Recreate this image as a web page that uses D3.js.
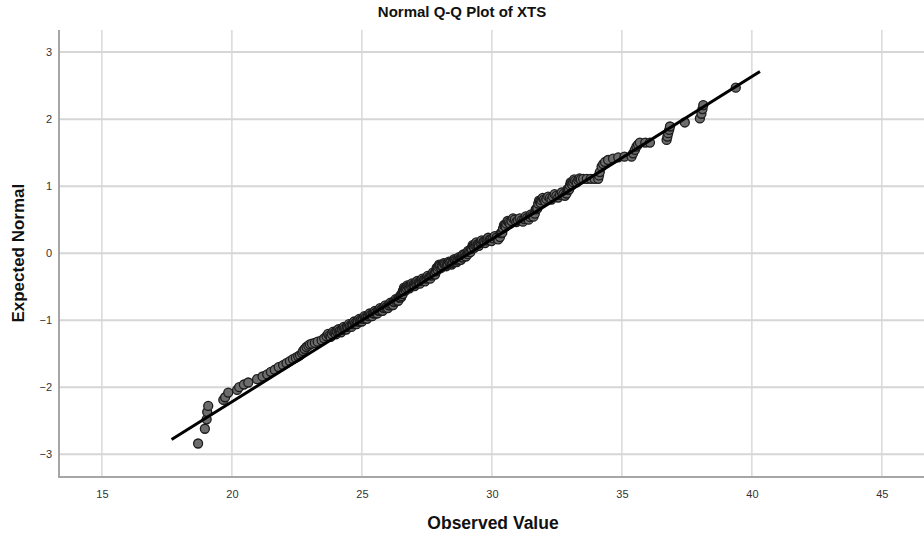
<!DOCTYPE html>
<html>
<head>
<meta charset="utf-8">
<script src="https://cdn.jsdelivr.net/npm/d3@7"></script>
<style>
  html, body { margin: 0; padding: 0; background: #ffffff; }
  svg { display: block; font-family: "Liberation Sans", Arial, sans-serif; }
</style>
</head>
<body>
<svg id="chart" width="924" height="539"></svg>
<script>
// Normal Q-Q plot of XTS: observed values against expected normal scores.
const chartTitle = "Normal Q-Q Plot of XTS";
const xTitle = "Observed Value";
const yTitle = "Expected Normal";

const xTicks = [15, 20, 25, 30, 35, 40, 45];
const yTicks = [-3, -2, -1, 0, 1, 2, 3];

// Cases, part one: tails and the main run of the curve
const observed = [
  18.70, 18.96, 19.03, 19.05, 19.09, 19.67, 19.74, 19.86, 20.20, 20.28,
  20.46, 20.63, 20.97, 21.18, 21.36, 21.50, 21.65, 21.80, 21.97, 22.10,
  22.23, 22.35, 22.46, 22.55, 22.62, 22.70, 22.74, 22.80, 22.87, 22.94,
  23.00, 23.08, 23.19, 23.30, 23.45, 23.55, 23.64, 23.75, 23.85, 23.95,
  24.05, 24.15, 24.25, 24.35, 24.45, 24.55, 24.65, 24.75, 24.85, 24.95,
  25.05, 25.15, 25.25, 25.35, 25.45, 25.55, 25.65, 25.75, 25.85, 25.95,
  26.05, 26.15, 26.25, 26.35, 26.45, 26.52, 26.55, 26.59, 26.65, 26.72,
  26.78, 26.88, 26.98, 27.08, 27.18, 27.28, 27.38, 27.48, 27.58, 27.68,
  27.78, 27.85, 27.90, 27.94, 28.00, 28.10, 28.20, 28.30, 28.40, 28.51,
  28.60, 28.70, 28.77, 28.85, 28.95, 29.05, 29.12, 29.22, 29.30, 29.35,
  29.45, 29.55, 29.67, 29.80, 29.92, 30.05, 30.18, 30.31, 30.37, 30.43,
  30.50, 30.56, 30.65, 30.75, 30.88, 31.00, 31.14, 31.25, 31.36, 31.46,
  31.55, 31.65, 31.72, 31.78, 31.85, 31.91, 32.00, 32.10, 32.23, 32.35,
  32.48, 32.62, 32.75, 32.87, 32.94, 33.00, 33.06, 33.13, 33.20, 33.32,
  33.42, 33.51, 33.65, 33.80, 33.95, 34.09, 34.12, 34.15, 34.22, 34.28,
  34.35, 34.47, 34.66, 34.86, 35.10, 35.37, 35.43, 35.50, 35.56, 35.62,
  35.69, 35.90, 36.08, 36.72, 36.75, 36.78, 36.82, 36.85, 37.42, 38.00,
  38.06, 38.10, 38.13, 39.38
];

const expectedNormal = [
  -2.84, -2.62, -2.48, -2.37, -2.28, -2.19, -2.15, -2.08, -2.04, -2.00,
  -1.96, -1.93, -1.88, -1.84, -1.81, -1.77, -1.74, -1.70, -1.67, -1.64,
  -1.61, -1.58, -1.56, -1.54, -1.52, -1.49, -1.46, -1.43, -1.40, -1.38,
  -1.36, -1.35, -1.34, -1.32, -1.30, -1.27, -1.24, -1.23, -1.21, -1.19,
  -1.17, -1.16, -1.14, -1.12, -1.10, -1.08, -1.06, -1.04, -1.02, -1.00,
  -0.98, -0.96, -0.94, -0.92, -0.90, -0.88, -0.86, -0.84, -0.82, -0.80,
  -0.78, -0.76, -0.73, -0.70, -0.66, -0.64, -0.60, -0.56, -0.53, -0.52,
  -0.50, -0.49, -0.47, -0.455, -0.435, -0.415, -0.40, -0.38, -0.36, -0.335,
  -0.31, -0.27, -0.23, -0.205, -0.195, -0.185, -0.17, -0.16, -0.15, -0.13,
  -0.115, -0.095, -0.08, -0.06, -0.035, -0.005, 0.02, 0.07, 0.105, 0.12,
  0.135, 0.15, 0.17, 0.19, 0.205, 0.22, 0.23, 0.24, 0.30, 0.37,
  0.41, 0.44, 0.46, 0.48, 0.50, 0.49, 0.49, 0.51, 0.525, 0.54,
  0.56, 0.59, 0.66, 0.74, 0.77, 0.79, 0.80, 0.81, 0.82, 0.84,
  0.855, 0.87, 0.88, 0.89, 0.95, 1.01, 1.04, 1.06, 1.08, 1.09,
  1.10, 1.11, 1.11, 1.11, 1.11, 1.11, 1.16, 1.21, 1.29, 1.33,
  1.36, 1.39, 1.41, 1.43, 1.44, 1.44, 1.49, 1.54, 1.59, 1.62,
  1.65, 1.65, 1.65, 1.69, 1.74, 1.79, 1.84, 1.89, 1.95, 2.01,
  2.08, 2.15, 2.21, 2.47
];

// Cases, part two: the densely packed middle of the band
const observedMid = [
  23.70, 23.80, 23.90, 24.00, 24.10, 24.20, 24.30, 24.40, 24.50, 24.60,
  24.70, 24.80, 24.90, 25.00, 25.10, 25.20, 25.30, 25.40, 25.50, 25.60,
  25.70, 25.80, 25.90, 26.00, 26.10, 26.20, 26.30, 26.40, 26.485, 26.57,
  26.62, 26.685, 26.75, 26.83, 26.93, 27.03, 27.13, 27.23, 27.33, 27.43,
  27.53, 27.63, 27.73, 27.815, 27.875, 27.92, 27.97, 28.05, 28.15, 28.25,
  28.35, 28.45, 28.55, 28.65, 28.735, 28.81, 28.90, 29.00, 29.085, 29.17,
  29.26, 29.325, 29.40, 29.50, 29.61, 29.735, 29.86, 29.985, 30.115, 30.245,
  30.34, 30.40, 30.465, 30.53, 30.605, 30.70, 30.815, 30.94, 31.07, 31.195,
  31.305, 31.41, 31.505, 31.60, 31.685, 31.75, 31.815, 31.88, 31.955, 32.05,
  32.165, 32.29, 32.415, 32.55, 32.685, 32.81, 32.905, 32.97, 33.03, 33.095,
  33.165, 33.26, 33.37
];

const expectedNormalMid = [
  -1.205, -1.25, -1.17, -1.21, -1.135, -1.18, -1.10, -1.14, -1.06, -1.10,
  -1.02, -1.06, -0.98, -1.02, -0.94, -0.98, -0.90, -0.94, -0.86, -0.90,
  -0.82, -0.86, -0.78, -0.82, -0.74, -0.775, -0.685, -0.71, -0.63, -0.61,
  -0.515, -0.555, -0.48, -0.525, -0.45, -0.49, -0.415, -0.455, -0.38, -0.42,
  -0.34, -0.38, -0.29, -0.32, -0.22, -0.25, -0.17, -0.22, -0.15, -0.195,
  -0.125, -0.17, -0.09, -0.135, -0.06, -0.10, -0.02, -0.05, 0.035, 0.015,
  0.12, 0.08, 0.16, 0.11, 0.19, 0.15, 0.23, 0.18, 0.255, 0.205,
  0.30, 0.305, 0.42, 0.395, 0.48, 0.44, 0.52, 0.465, 0.52, 0.47,
  0.55, 0.50, 0.58, 0.545, 0.655, 0.67, 0.785, 0.75, 0.825, 0.775,
  0.845, 0.80, 0.88, 0.83, 0.905, 0.855, 0.95, 0.95, 1.055, 1.02,
  1.10, 1.055, 1.115
];

// Cases, part three: the centre of the distribution, where cases crowd most
const observedCore = [
  24.025, 24.125, 24.225, 24.325, 24.425, 24.525, 24.625, 24.725, 24.825, 24.925,
  25.025, 25.125, 25.225, 25.325, 25.425, 25.525, 25.625, 25.725, 25.825, 25.925,
  26.025, 26.125, 26.225, 26.325, 26.425, 26.505, 26.575, 26.61, 26.70, 26.80,
  26.905, 27.005, 27.105, 27.205, 27.305, 27.405, 27.505, 27.605, 27.705, 27.80,
  27.89, 27.99, 28.075, 28.175, 28.275, 28.375, 28.475, 28.575, 28.675, 28.80,
  28.875, 28.975, 29.075, 29.195, 29.275, 29.375, 29.475, 29.575, 29.70, 29.825,
  29.95
];

const expectedNormalCore = [
  -1.165, -1.175, -1.135, -1.14, -1.095, -1.095, -1.055, -1.06, -1.015, -1.02,
  -0.975, -0.98, -0.935, -0.94, -0.895, -0.90, -0.855, -0.86, -0.815, -0.82,
  -0.775, -0.78, -0.725, -0.72, -0.665, -0.66, -0.565, -0.56, -0.51, -0.51,
  -0.47, -0.47, -0.44, -0.44, -0.40, -0.40, -0.365, -0.365, -0.32, -0.305,
  -0.235, -0.185, -0.195, -0.165, -0.17, -0.14, -0.15, -0.105, -0.11, -0.065,
  -0.065, -0.01, -0.015, 0.06, 0.10, 0.14, 0.13, 0.17, 0.17, 0.21,
  0.20
];

// Reference line: expected = (observed - mean) / sd, drawn over the observed span
const refMean = 29.14;
const refSD = 4.122;
const refSpan = [17.68, 40.31];

const svg = d3.select("#chart");
const W = 924, H = 539;
const plot = { left: 59, right: 924, top: 30, bottom: 477 };

const x = d3.scaleLinear().domain([13.35, 46.62]).range([plot.left, plot.right]);
const y = d3.scaleLinear().domain([-3.34, 3.33]).range([plot.bottom, plot.top]);

// Grid lines
const grid = svg.append("g");
grid.selectAll("line.vg").data(xTicks).join("line")
  .attr("class", "vg")
  .attr("x1", d => x(d)).attr("x2", d => x(d))
  .attr("y1", plot.top).attr("y2", plot.bottom)
  .attr("stroke", "#cfcfcf").attr("stroke-width", 1.2);
grid.selectAll("line.hg").data(yTicks).join("line")
  .attr("class", "hg")
  .attr("x1", plot.left).attr("x2", plot.right)
  .attr("y1", d => y(d)).attr("y2", d => y(d))
  .attr("stroke", "#d6d6d6").attr("stroke-width", 2);

// Axes (no tick marks, labels only)
const xAxis = d3.axisBottom(x).tickValues(xTicks).tickSize(0).tickPadding(13).tickFormat(d3.format("d"));
const yAxis = d3.axisLeft(y).tickValues(yTicks).tickSize(0).tickPadding(7).tickFormat(d3.format("d"));

const gx = svg.append("g").attr("transform", `translate(0,${plot.bottom})`).call(xAxis);
const gy = svg.append("g").attr("transform", `translate(${plot.left},0)`).call(yAxis);
[gx, gy].forEach(g => {
  g.select(".domain").remove();
  g.selectAll("text")
    .attr("font-family", "Liberation Sans, Arial, sans-serif")
    .attr("font-size", 11)
    .attr("fill", "#333333");
});

svg.append("line")
  .attr("x1", plot.left).attr("x2", plot.left)
  .attr("y1", plot.top).attr("y2", plot.bottom + 1)
  .attr("stroke", "#a6a6a6").attr("stroke-width", 2);
svg.append("line")
  .attr("x1", plot.left - 1).attr("x2", plot.right)
  .attr("y1", plot.bottom).attr("y2", plot.bottom)
  .attr("stroke", "#a6a6a6").attr("stroke-width", 2);

// Points, drawn in order of observed value
const toPts = (xs, ys) => xs.map((v, i) => ({ obs: v, exp: ys[i] }));
const pts = toPts(observed, expectedNormal)
  .concat(toPts(observedMid, expectedNormalMid))
  .concat(toPts(observedCore, expectedNormalCore))
  .sort((a, b) => a.obs - b.obs);

svg.append("g").selectAll("circle").data(pts).join("circle")
  .attr("cx", d => x(d.obs))
  .attr("cy", d => y(d.exp))
  .attr("r", 4.5)
  .attr("fill", "#6c6c6c")
  .attr("stroke", "#1c1c1c")
  .attr("stroke-width", 1.3);

// Reference line
const refLine = refSpan.map(v => ({ obs: v, exp: (v - refMean) / refSD }));
svg.append("path")
  .datum(refLine)
  .attr("d", d3.line().x(d => x(d.obs)).y(d => y(d.exp)))
  .attr("stroke", "#000000")
  .attr("stroke-width", 3)
  .attr("fill", "none");

// Titles
svg.append("text")
  .attr("x", W / 2).attr("y", 17)
  .attr("text-anchor", "middle")
  .attr("font-size", 15).attr("font-weight", "bold").attr("fill", "#111")
  .text(chartTitle);

svg.append("text")
  .attr("x", 493).attr("y", 529)
  .attr("text-anchor", "middle")
  .attr("font-size", 17.5).attr("font-weight", "bold").attr("fill", "#111")
  .text(xTitle);

svg.append("text")
  .attr("transform", `translate(24,${y(0)}) rotate(-90)`)
  .attr("text-anchor", "middle")
  .attr("font-size", 17).attr("font-weight", "bold").attr("fill", "#111")
  .text(yTitle);
</script>
</body>
</html>
